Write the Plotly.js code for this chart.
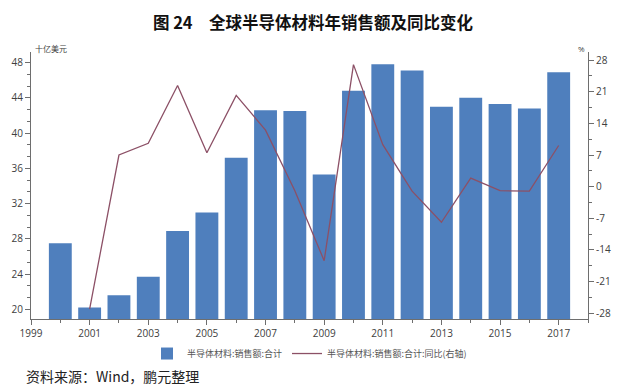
<!DOCTYPE html>
<html>
<head>
<meta charset="utf-8">
<script src="https://cdn.plot.ly/plotly-3.0.1.min.js"></script>
<style>html,body{margin:0;padding:0;background:#fff;}#chart{width:626px;height:391px;}</style>
</head>
<body>
<div id="chart"></div>
<script>
const years = [2000,2001,2002,2003,2004,2005,2006,2007,2008,2009,2010,2011,2012,2013,2014,2015,2016,2017];
const sales = [27.5,20.2,21.6,23.7,28.9,31.0,37.2,42.6,42.5,35.3,44.8,47.8,47.1,43.0,44.0,43.3,42.8,46.9];
const yoyYears = [2001,2002,2003,2004,2005,2006,2007,2008,2009,2010,2011,2012,2013,2014,2015,2016,2017];
const yoy = [-27.1,7.0,9.6,22.4,7.5,20.2,12.5,-0.9,-16.4,27.0,9.3,-1.0,-7.9,1.9,-0.9,-1.0,9.1];
const leftTicks = [20,24,28,32,36,40,44,48];
const rightTicks = [-28,-21,-14,-7,0,7,14,21,28];
const xTicks = [1999,2001,2003,2005,2007,2009,2011,2013,2015,2017];

const axisColor = '#6e6e6e';
const tickFont = {family:'Open Sans, DejaVu Sans, sans-serif', size:10, color:'#404040'};

const traces = [
  {type:'bar', x:years, y:sales, name:'半导体材料:销售额:合计', width:0.78,
   marker:{color:'#4f7fbd'}, yaxis:'y'},
  {type:'scatter', mode:'lines', x:yoyYears, y:yoy, name:'半导体材料:销售额:合计:同比(右轴)',
   line:{color:'#8c5066', width:1.3}, yaxis:'y2'}
];

const layout = {
  width:626, height:391,
  margin:{l:31, r:38, t:52, b:72},
  paper_bgcolor:'#fff', plot_bgcolor:'#fff',
  showlegend:true,
  legend:{orientation:'h', x:0.5, xanchor:'center', y:-0.075, yanchor:'top',
          font:{family:'Noto Sans CJK SC, sans-serif', size:9, color:'#555'},
          itemwidth:30, tracegroupgap:0, bgcolor:'rgba(0,0,0,0)'},
  title:{text:'<b>图 24　全球半导体材料年销售额及同比变化</b>', x:0.5, xanchor:'center', y:0.94, yanchor:'middle',
         font:{family:'Noto Sans CJK SC, sans-serif', size:16.5, color:'#111'}},
  xaxis:{range:[1999,2018], tickvals:xTicks, ticktext:xTicks.map(String),
         showline:true, linecolor:axisColor, linewidth:1, ticks:'outside', ticklen:5, tickcolor:axisColor,
         minor:{dtick:1, tick0:1999, ticks:'outside', ticklen:3, tickcolor:axisColor},
         showgrid:false, zeroline:false, tickfont:tickFont, fixedrange:true},
  yaxis:{range:[18.9,49.2], tickvals:leftTicks, ticktext:leftTicks.map(String),
         showline:true, linecolor:axisColor, linewidth:1, ticks:'outside', ticklen:5, tickcolor:axisColor,
         minor:{dtick:4/3, tick0:20, ticks:'outside', ticklen:3, tickcolor:axisColor},
         showgrid:false, zeroline:false, tickfont:tickFont},
  yaxis2:{range:[-29.3,29.8], overlaying:'y', side:'right', tickvals:rightTicks, ticktext:rightTicks.map(String),
         showline:true, linecolor:axisColor, linewidth:1, ticks:'outside', ticklen:5, tickcolor:axisColor,
         minor:{dtick:3.5, tick0:0, ticks:'outside', ticklen:3, tickcolor:axisColor},
         showgrid:false, zeroline:false, tickfont:tickFont},
  annotations:[
    {xref:'paper', yref:'paper', x:0, y:1.0, xanchor:'left', yanchor:'bottom', xshift:2, yshift:-4,
     text:'十亿美元', showarrow:false, font:{family:'Noto Sans CJK SC, sans-serif', size:8, color:'#444'}},
    {xref:'paper', yref:'paper', x:1, y:1.0, xanchor:'right', yanchor:'bottom', xshift:-1, yshift:-4,
     text:'%', showarrow:false, font:{family:'Open Sans, sans-serif', size:8, color:'#444'}},
    {xref:'paper', yref:'paper', x:-0.012, y:-0.225, xanchor:'left', yanchor:'middle', yshift:3,
     text:'资料来源：Wind，鹏元整理', showarrow:false, font:{family:'Noto Sans CJK SC, sans-serif', size:14, color:'#222'}}
  ]
};

Plotly.newPlot('chart', traces, layout, {displayModeBar:false, staticPlot:true});
</script>
</body>
</html>
